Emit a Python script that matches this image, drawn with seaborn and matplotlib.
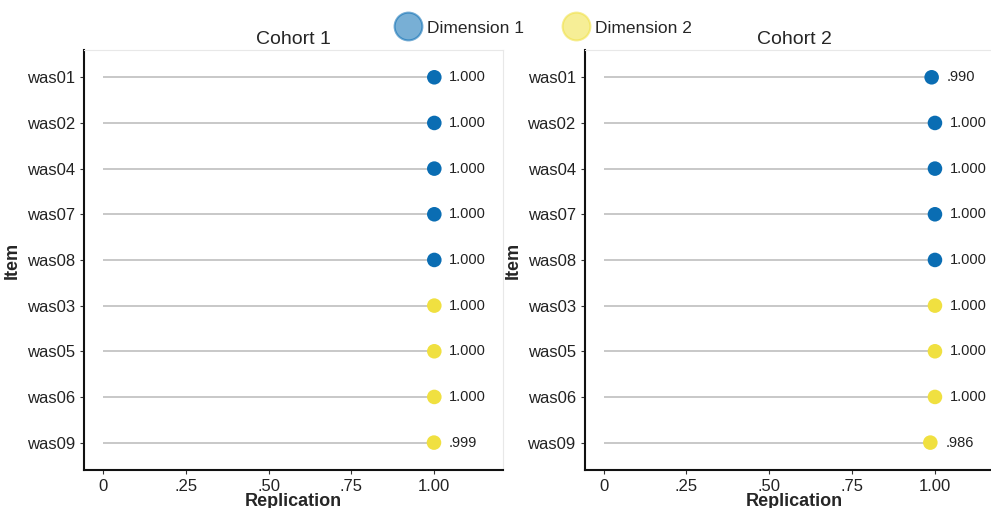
import matplotlib
matplotlib.use('Agg')
import matplotlib.pyplot as plt
import seaborn as sns
import pandas as pd
from matplotlib.lines import Line2D

items = ['was01', 'was02', 'was04', 'was07', 'was08', 'was03', 'was05', 'was06', 'was09']
dimension = ['Dimension 1'] * 5 + ['Dimension 2'] * 4
cohort1 = [1.000, 1.000, 1.000, 1.000, 1.000, 1.000, 1.000, 1.000, 0.999]
cohort2 = [0.990, 1.000, 1.000, 1.000, 1.000, 1.000, 1.000, 1.000, 0.986]
cohorts = {'Cohort 1': cohort1, 'Cohort 2': cohort2}
xticks = [0, 0.25, 0.50, 0.75, 1.00]
xtick_labels = ['0', '.25', '.50', '.75', '1.00']

palette = {'Dimension 1': '#0a6db3', 'Dimension 2': '#f0e040'}

sns.set_theme(style='white')
plt.rcParams['font.family'] = ['Liberation Sans', 'DejaVu Sans']


def fmt(v):
    s = f'{v:.3f}'
    return s[1:] if s.startswith('0') else s


fig = plt.figure(figsize=(9.91, 5.08), dpi=100)
positions = [[0.0848, 0.0748, 0.423, 0.827], [0.590, 0.0748, 0.423, 0.827]]

for pos, (title, vals) in zip(positions, cohorts.items()):
    ax = fig.add_axes(pos)
    df = pd.DataFrame({'Item': items, 'Replication': vals, 'Dimension': dimension})
    ypos = list(range(len(items)))
    ax.hlines(ypos, 0, df['Replication'], color='#c4c4c4', lw=1.3, zorder=1)
    sns.scatterplot(data=df, x='Replication', y='Item', hue='Dimension', palette=palette,
                    s=110, edgecolor='none', legend=False, ax=ax, zorder=3)
    for y, v in zip(ypos, vals):
        ax.text(v + 0.045, y, fmt(v), va='center', ha='left', fontsize=10.5, color='#222222')
    ax.set_xlim(-0.057, 1.208)
    ax.set_ylim(len(items) - 0.4, -0.6)
    ax.set_xticks(xticks)
    ax.set_xticklabels(xtick_labels, fontsize=12, color='#222222')
    ax.tick_params(axis='y', labelsize=12, labelcolor='#222222', length=3, width=0.8,
                   left=True, color='#333333')
    ax.tick_params(axis='x', length=3, width=0.8, bottom=True, color='#333333')
    ax.set_xlabel('Replication', fontsize=13, fontweight='bold', labelpad=-1)
    ax.set_ylabel('Item', fontsize=13, fontweight='bold', labelpad=4)
    ax.set_title(title, fontsize=14, pad=4)
    for side in ['left', 'bottom']:
        ax.spines[side].set_color('#111111')
        ax.spines[side].set_linewidth(1.5)
    for side in ['top', 'right']:
        ax.spines[side].set_color('#e8e8e8')
        ax.spines[side].set_linewidth(0.8)

handles = [Line2D([0], [0], marker='o', linestyle='none', markersize=20,
                  markerfacecolor=palette[k], markeredgecolor=palette[k], alpha=0.55,
                  markeredgewidth=1.5, label=k) for k in ['Dimension 1', 'Dimension 2']]
fig.legend(handles=handles, loc='center', bbox_to_anchor=(0.546, 0.945), ncol=2,
           frameon=False, fontsize=12.5, handletextpad=0.1, columnspacing=2.0)

fig.savefig('out.png', dpi=100)
